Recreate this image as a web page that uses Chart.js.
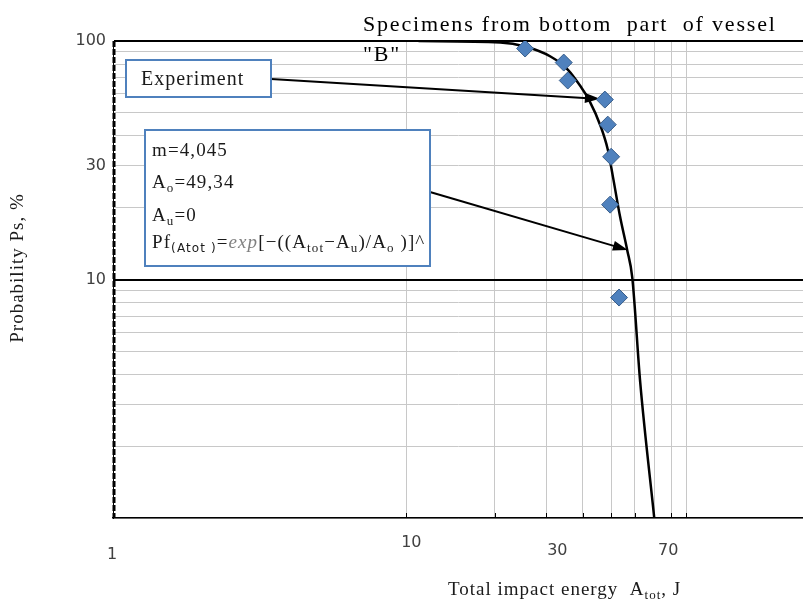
<!DOCTYPE html>
<html>
<head>
<meta charset="utf-8">
<script src="https://cdn.jsdelivr.net/npm/chart.js@4.4.1/dist/chart.umd.min.js"></script>
<style>
  html, body { margin: 0; padding: 0; background: #fff; }
  #wrap { width: 803px; height: 603px; }
</style>
</head>
<body>
<div id="wrap"><canvas id="chart" width="803" height="603"></canvas></div>
<script>
// Experimental points: total impact energy (J) and probability Ps (%)
const expEnergy = [25.4, 34.4, 35.5, 47.5, 48.6, 49.9, 49.5, 53.1];
const expProb = [93.0, 81.2, 68.3, 56.8, 44.6, 32.7, 20.6, 8.4];

// Fitted curve
const fitEnergy = [11, 20.9, 25.4, 31.0, 35.5, 39.3, 41.9, 46.0, 48.6, 50.6, 53.5, 56.6, 58.9, 62.7, 70.0];
const fitProb = [99.9, 98.6, 94.8, 86.1, 75.9, 64.4, 56.8, 43.8, 35.1, 27.0, 18.4, 13.3, 10.2, 3.7, 1.0];

// Axis ticks
const xTicks = [1, 10, 20, 30, 40, 50, 60, 70, 80, 90];
const xTickLabels = [1, 10, 30, 70];
const yTicks = [1, 2, 3, 4, 5, 6, 7, 8, 9, 10, 20, 30, 40, 50, 60, 70, 80, 90, 100];
const yTickLabels = [100, 30, 10];

const SERIF = '"Liberation Serif", "Times New Roman", serif';
const SANS = '"DejaVu Sans", Verdana, sans-serif';

// Draw a line with a filled arrow head at (x2, y2)
function drawArrow(ctx, x1, y1, x2, y2) {
    const ang = Math.atan2(y2 - y1, x2 - x1);
    const len = 15, half = 5;
    ctx.strokeStyle = '#000';
    ctx.fillStyle = '#000';
    ctx.lineWidth = 2;
    ctx.beginPath();
    ctx.moveTo(x1, y1);
    ctx.lineTo(x2 - Math.cos(ang) * len * 0.8, y2 - Math.sin(ang) * len * 0.8);
    ctx.stroke();
    ctx.beginPath();
    ctx.moveTo(x2, y2);
    ctx.lineTo(x2 - Math.cos(ang) * len + Math.sin(ang) * half, y2 - Math.sin(ang) * len - Math.cos(ang) * half);
    ctx.lineTo(x2 - Math.cos(ang) * len - Math.sin(ang) * half, y2 - Math.sin(ang) * len + Math.cos(ang) * half);
    ctx.closePath();
    ctx.fill();
}

function drawBox(ctx, x, y, w, h) {
    ctx.fillStyle = '#fff';
    ctx.fillRect(x, y, w, h);
    ctx.strokeStyle = '#4f81bd';
    ctx.lineWidth = 2;
    ctx.strokeRect(x, y, w, h);
}

// Text made of pieces: normal, subscript, small sans subscript, italic
function richText(ctx, x, y, parts, size) {
    parts.forEach(([txt, kind]) => {
        let font = `${size}px ${SERIF}`, dy = 0, color = '#1a1a1a';
        if (kind === 'sub') { font = `${Math.round(size * 0.68)}px ${SERIF}`; dy = 4; }
        if (kind === 'sans') { font = `${Math.round(size * 0.62)}px ${SANS}`; dy = 4; }
        if (kind === 'it') { font = `italic ${size}px ${SERIF}`; color = '#808080'; }
        ctx.font = font;
        ctx.fillStyle = color;
        ctx.fillText(txt, x, y + dy);
        x += ctx.measureText(txt).width;
    });
    return x;
}

const annotations = {
    id: 'annotations',
    beforeDatasetsDraw(chart) {
        const ctx = chart.ctx;
        const xs = chart.scales.x, ys = chart.scales.y;
        ctx.save();

        // dashed look of the probability axis
        ctx.strokeStyle = '#000';
        ctx.lineWidth = 3;
        ctx.setLineDash([6, 2]);
        ctx.beginPath();
        ctx.moveTo(xs.left + 1, ys.top);
        ctx.lineTo(xs.left + 1, ys.bottom);
        ctx.stroke();
        ctx.setLineDash([]);

        // small inward ticks on the energy axis
        ctx.lineWidth = 1;
        xTicks.slice(1).forEach(v => {
            const px = Math.round(xs.getPixelForValue(v)) + 0.5;
            ctx.beginPath();
            ctx.moveTo(px, ys.bottom);
            ctx.lineTo(px, ys.bottom - 5);
            ctx.stroke();
        });

        // arrows pointing at the data and the fitted line
        drawArrow(ctx, 271, 79, xs.getPixelForValue(45.7), ys.getPixelForValue(57.2));
        drawArrow(ctx, 430, 192, xs.getPixelForValue(56.9), ys.getPixelForValue(13.3));

        // "Experiment" label
        drawBox(ctx, 126, 60, 145, 37);
        ctx.letterSpacing = '1px';
        ctx.font = `20px ${SERIF}`;
        ctx.fillStyle = '#1a1a1a';
        ctx.textBaseline = 'alphabetic';
        ctx.fillText('Experiment', 141, 85);

        // fit parameters
        drawBox(ctx, 145, 130, 285, 136);
        ctx.letterSpacing = '1.1px';
        const fs = 19;
        richText(ctx, 152, 156, [['m=4,045', 'n']], fs);
        richText(ctx, 152, 188, [['A', 'n'], ['o', 'sub'], ['=49,34', 'n']], fs);
        richText(ctx, 152, 221, [['A', 'n'], ['u', 'sub'], ['=0', 'n']], fs);
        richText(ctx, 152, 248, [
            ['Pf', 'n'], ['(Atot )', 'sans'], ['=', 'n'], ['exp', 'it'],
            ['[\u2212((A', 'n'], ['tot', 'sub'], ['\u2212A', 'n'], ['u', 'sub'],
            [')/A', 'n'], ['o', 'sub'], [' )]^', 'n']
        ], fs);
        ctx.restore();
    },
    afterDraw(chart) {
        const ctx = chart.ctx;
        const xs = chart.scales.x;
        ctx.save();

        // energy tick labels
        const shift = { 1: [-1, 555], 10: [5, 543], 30: [11, 551], 70: [14, 551] };
        ctx.font = `16px ${SANS}`;
        ctx.fillStyle = '#404040';
        ctx.textAlign = 'center';
        ctx.textBaseline = 'middle';
        xTickLabels.forEach(v => {
            ctx.fillText(String(v), xs.getPixelForValue(v) + shift[v][0], shift[v][1]);
        });

        // title
        ctx.textAlign = 'left';
        ctx.textBaseline = 'alphabetic';
        ctx.fillStyle = '#000';
        ctx.font = `22px ${SERIF}`;
        ctx.letterSpacing = '1.8px';
        ctx.fillText('Specimens from bottom  part  of vessel', 363, 31);
        ctx.fillText('"B"', 363, 61);

        // x axis title
        ctx.letterSpacing = '1px';
        ctx.fillStyle = '#1a1a1a';
        richText(ctx, 448, 595, [['Total impact energy  A', 'n'], ['tot', 'sub'], [', J', 'n']], 19);

        // y axis title
        ctx.translate(23, 268);
        ctx.rotate(-Math.PI / 2);
        ctx.textAlign = 'center';
        ctx.font = `19px ${SERIF}`;
        ctx.fillText('Probability Ps, %', 0, 0);
        ctx.restore();
    }
};

const ctx = document.getElementById('chart').getContext('2d');
new Chart(ctx, {
    type: 'scatter',
    data: {
        datasets: [{
            label: 'Experiment',
            data: expEnergy.map((x, i) => ({ x: x, y: expProb[i] })),
            pointStyle: 'rectRot',
            pointRadius: 8.5,
            backgroundColor: '#4f81bd',
            borderColor: '#385d8a',
            borderWidth: 1,
            order: 0
        }, {
            label: 'Fit',
            data: fitEnergy.map((x, i) => ({ x: x, y: fitProb[i] })),
            showLine: true,
            pointRadius: 0,
            borderColor: '#000',
            borderWidth: 2.5,
            cubicInterpolationMode: 'monotone',
            order: 1
        }]
    },
    options: {
        responsive: false,
        animation: false,
        layout: { autoPadding: false, padding: { top: 41, right: 0, bottom: 0, left: 0 } },
        plugins: { legend: { display: false }, tooltip: { enabled: false } },
        scales: {
            x: {
                type: 'logarithmic',
                min: 1,
                max: 225,
                afterBuildTicks: s => { s.ticks = xTicks.map(v => ({ value: v })); },
                afterFit: s => { s.height = 85; },
                ticks: { display: false },
                grid: {
                    color: c => (c.tick && c.tick.value === 1) ? 'rgba(0,0,0,0)' : '#c8c8c8',
                    lineWidth: 1,
                    drawTicks: false
                },
                border: { color: '#000', width: 1.5 }
            },
            y: {
                type: 'logarithmic',
                min: 1,
                max: 100,
                afterBuildTicks: s => { s.ticks = yTicks.map(v => ({ value: v })); },
                afterFit: s => { s.width = 113; },
                ticks: {
                    autoSkip: false,
                    padding: 7,
                    color: '#404040',
                    font: { family: 'DejaVu Sans', size: 16 },
                    callback: v => yTickLabels.includes(v) ? String(v) : ''
                },
                grid: {
                    color: c => (c.tick && (c.tick.value === 10 || c.tick.value === 100)) ? '#000' : '#c8c8c8',
                    lineWidth: c => (c.tick && (c.tick.value === 10 || c.tick.value === 100)) ? 2 : 1,
                    drawTicks: false
                },
                border: { color: '#000', width: 1 }
            }
        }
    },
    plugins: [annotations]
});
</script>
</body>
</html>
